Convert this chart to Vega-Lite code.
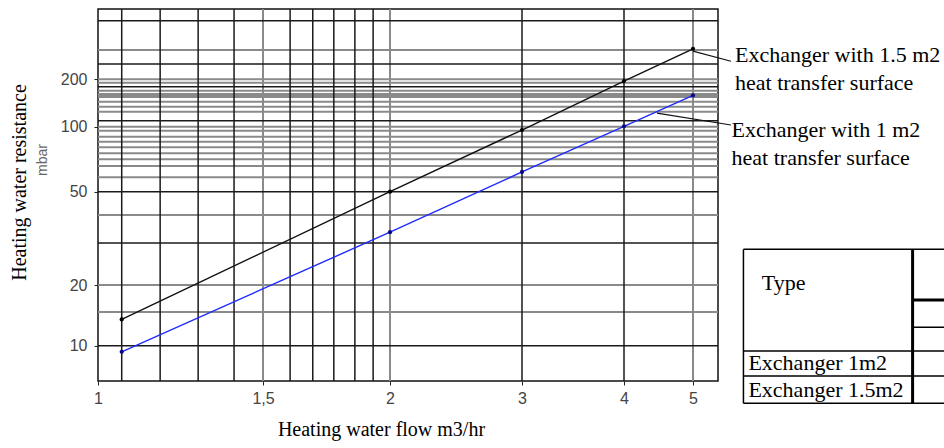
{
  "$schema": "https://vega.github.io/schema/vega-lite/v6.json",
  "width": 620,
  "height": 372,
  "autosize": {"type": "none"},
  "padding": {"left": 98, "top": 9, "right": 226, "bottom": 67},
  "background": "white",
  "config": {
    "view": {"stroke": "#111111", "strokeWidth": 1.5},
    "axis": {
      "grid": false,
      "domain": false,
      "ticks": true,
      "tickSize": 4,
      "tickColor": "#222222",
      "labelFont": "Liberation Sans",
      "labelFontSize": 16,
      "labelColor": "#444444",
      "titleFont": "Liberation Serif",
      "titleFontSize": 20,
      "titleFontWeight": "normal",
      "titleColor": "#000000"
    }
  },
  "datasets": {
    "vgrid": [
      {"x": 1.06, "tone": "dark"}, {"x": 1.165, "tone": "dark"}, {"x": 1.279, "tone": "dark"},
      {"x": 1.397, "tone": "dark"}, {"x": 1.5, "tone": "gray"}, {"x": 1.595, "tone": "dark"},
      {"x": 1.679, "tone": "dark"}, {"x": 1.761, "tone": "dark"}, {"x": 1.847, "tone": "dark"},
      {"x": 1.925, "tone": "dark"}, {"x": 2, "tone": "gray"}, {"x": 3, "tone": "dark"},
      {"x": 4, "tone": "dark"}, {"x": 5, "tone": "gray"}
    ],
    "hgrid": [
      {"y": 356, "tone": "dark"}, {"y": 267, "tone": "gray"}, {"y": 232.6, "tone": "dark"},
      {"y": 200, "tone": "gray"}, {"y": 190.3, "tone": "gray"}, {"y": 179.5, "tone": "dark"},
      {"y": 169.3, "tone": "gray"}, {"y": 161.3, "tone": "gray"}, {"y": 157.5, "tone": "gray"},
      {"y": 154.4, "tone": "gray"}, {"y": 144.1, "tone": "gray"}, {"y": 134, "tone": "gray"},
      {"y": 124.5, "tone": "gray"}, {"y": 109.2, "tone": "dark"}, {"y": 100, "tone": "gray"},
      {"y": 95.8, "tone": "gray"}, {"y": 89.9, "tone": "gray"}, {"y": 85.2, "tone": "gray"},
      {"y": 80.3, "tone": "gray"}, {"y": 75.3, "tone": "gray"}, {"y": 70.6, "tone": "gray"},
      {"y": 65.8, "tone": "gray"}, {"y": 58.3, "tone": "gray"}, {"y": 50, "tone": "dark"},
      {"y": 39.8, "tone": "gray"}, {"y": 30.2, "tone": "dark"}, {"y": 20, "tone": "gray"},
      {"y": 14.7, "tone": "gray"}, {"y": 10, "tone": "dark"}
    ],
    "series": [
      {"series": "1.5 m2", "x": 1.06, "y": 13.5},
      {"series": "1.5 m2", "x": 2, "y": 50},
      {"series": "1.5 m2", "x": 3, "y": 96.5},
      {"series": "1.5 m2", "x": 4, "y": 195},
      {"series": "1.5 m2", "x": 5, "y": 270},
      {"series": "1 m2", "x": 1.06, "y": 9.4},
      {"series": "1 m2", "x": 2, "y": 33.6},
      {"series": "1 m2", "x": 3, "y": 61.7},
      {"series": "1 m2", "x": 4, "y": 100.5},
      {"series": "1 m2", "x": 5, "y": 158}
    ],
    "leaders": [
      {"id": "a", "x": 5.0, "y": 264},
      {"id": "a", "x": 5.62, "y": 239},
      {"id": "b", "x": 4.45, "y": 122},
      {"id": "b", "x": 5.62, "y": 102.5}
    ],
    "notes": [
      {"x": 5.69, "y": 237.2, "text": "Exchanger with 1.5 m2"},
      {"x": 5.69, "y": 171, "text": "heat transfer surface"},
      {"x": 5.63, "y": 89.6, "text": "Exchanger with 1 m2"},
      {"x": 5.63, "y": 66.5, "text": "heat transfer surface"}
    ],
    "tableThin": [
      {"x": 5.84, "x2": 11.5, "y": 28.4, "y2": 28.4},
      {"x": 5.84, "x2": 11.5, "y": 5.59, "y2": 5.59},
      {"x": 5.84, "x2": 5.84, "y": 28.4, "y2": 5.59},
      {"x": 5.84, "x2": 11.5, "y": 9.48, "y2": 9.48},
      {"x": 5.84, "x2": 11.5, "y": 7.36, "y2": 7.36},
      {"x": 9.83, "x2": 11.5, "y": 12.34, "y2": 12.34}
    ],
    "tableThick": [
      {"x": 9.83, "x2": 9.83, "y": 28.4, "y2": 5.59},
      {"x": 9.83, "x2": 11.5, "y": 16.85, "y2": 16.85}
    ],
    "tableText": [
      {"x": 6.18, "y": 18.9, "text": "Type"},
      {"x": 5.93, "y": 7.82, "text": "Exchanger 1m2"},
      {"x": 5.93, "y": 5.97, "text": "Exchanger 1.5m2"}
    ],
    "unit": [
      {"x": 0.874, "y": 70.1, "text": "mbar"}
    ]
  },
  "layer": [
    {
      "data": {"name": "vgrid"},
      "transform": [{"filter": "datum.tone == 'gray'"}],
      "mark": {"type": "rule", "color": "#8a8a8a", "strokeWidth": 2},
      "encoding": {
        "x": {
          "field": "x", "type": "quantitative",
          "scale": {"type": "log", "domain": [1, 1.5, 2, 3, 4, 5, 5.4], "range": [0, 165, 292, 424, 526, 595, 620], "nice": false, "zero": false},
          "axis": {
            "values": [1, 1.5, 2, 3, 4, 5],
            "format": "~g",
            "labelExpr": "replace(datum.label, '.', ',')",
            "labelFlush": false,
            "labelOverlap": false,
            "labelBound": false,
            "labelPadding": 5,
            "title": "Heating water flow m3/hr",
            "titleX": 283,
            "titleY": 54,
            "titleBaseline": "alphabetic",
            "titleAlign": "center"
          }
        }
      }
    },
    {
      "data": {"name": "hgrid"},
      "transform": [{"filter": "datum.tone == 'gray'"}],
      "mark": {"type": "rule", "color": "#8a8a8a", "strokeWidth": 2},
      "encoding": {
        "y": {
          "field": "y", "type": "quantitative",
          "scale": {"type": "log", "domain": [7, 10, 20, 50, 100, 200, 400], "range": [372, 336.7, 276, 182.7, 117.7, 70.3, 0], "nice": false, "zero": false},
          "axis": {
            "values": [10, 20, 50, 100, 200],
            "format": "~g",
            "labelPadding": 7,
            "labelOverlap": false,
            "labelBound": false,
            "title": "Heating water resistance",
            "titleX": -73,
            "titleY": 173,
            "titleAngle": 270,
            "titleBaseline": "alphabetic",
            "titleAlign": "center"
          }
        }
      }
    },
    {
      "data": {"name": "vgrid"},
      "transform": [{"filter": "datum.tone == 'dark'"}],
      "mark": {"type": "rule", "color": "#1a1a1a", "strokeWidth": 1.5},
      "encoding": {"x": {"field": "x", "type": "quantitative"}}
    },
    {
      "data": {"name": "hgrid"},
      "transform": [{"filter": "datum.tone == 'dark'"}],
      "mark": {"type": "rule", "color": "#1a1a1a", "strokeWidth": 1.5},
      "encoding": {"y": {"field": "y", "type": "quantitative"}}
    },
    {
      "data": {"name": "series"},
      "mark": {"type": "line", "strokeWidth": 1.4},
      "encoding": {
        "x": {"field": "x", "type": "quantitative"},
        "y": {"field": "y", "type": "quantitative"},
        "color": {"field": "series", "type": "nominal", "scale": {"domain": ["1.5 m2", "1 m2"], "range": ["#111111", "#1f2bff"]}, "legend": null}
      }
    },
    {
      "data": {"name": "series"},
      "mark": {"type": "circle", "size": 18, "opacity": 1},
      "encoding": {
        "x": {"field": "x", "type": "quantitative"},
        "y": {"field": "y", "type": "quantitative"},
        "fill": {"field": "series", "type": "nominal", "scale": {"domain": ["1.5 m2", "1 m2"], "range": ["#000000", "#0a0a80"]}, "legend": null}
      }
    },
    {
      "data": {"name": "leaders"},
      "mark": {"type": "line", "color": "#111111", "strokeWidth": 1.1},
      "encoding": {
        "x": {"field": "x", "type": "quantitative"},
        "y": {"field": "y", "type": "quantitative"},
        "detail": {"field": "id"}
      }
    },
    {
      "data": {"name": "notes"},
      "mark": {"type": "text", "font": "Liberation Serif", "fontSize": 22, "align": "left", "baseline": "alphabetic", "color": "#000000"},
      "encoding": {
        "x": {"field": "x", "type": "quantitative"},
        "y": {"field": "y", "type": "quantitative"},
        "text": {"field": "text"}
      }
    },
    {
      "data": {"name": "tableThin"},
      "mark": {"type": "rule", "color": "#000000", "strokeWidth": 1.5},
      "encoding": {
        "x": {"field": "x", "type": "quantitative"},
        "x2": {"field": "x2"},
        "y": {"field": "y", "type": "quantitative"},
        "y2": {"field": "y2"}
      }
    },
    {
      "data": {"name": "tableThick"},
      "mark": {"type": "rule", "color": "#000000", "strokeWidth": 3},
      "encoding": {
        "x": {"field": "x", "type": "quantitative"},
        "x2": {"field": "x2"},
        "y": {"field": "y", "type": "quantitative"},
        "y2": {"field": "y2"}
      }
    },
    {
      "data": {"name": "tableText"},
      "mark": {"type": "text", "font": "Liberation Serif", "fontSize": 22, "align": "left", "baseline": "alphabetic", "color": "#000000"},
      "encoding": {
        "x": {"field": "x", "type": "quantitative"},
        "y": {"field": "y", "type": "quantitative"},
        "text": {"field": "text"}
      }
    },
    {
      "data": {"name": "unit"},
      "mark": {"type": "text", "font": "Liberation Sans", "fontSize": 14, "angle": 270, "align": "center", "baseline": "middle", "color": "#666666"},
      "encoding": {
        "x": {"field": "x", "type": "quantitative"},
        "y": {"field": "y", "type": "quantitative"},
        "text": {"field": "text"}
      }
    }
  ]
}
